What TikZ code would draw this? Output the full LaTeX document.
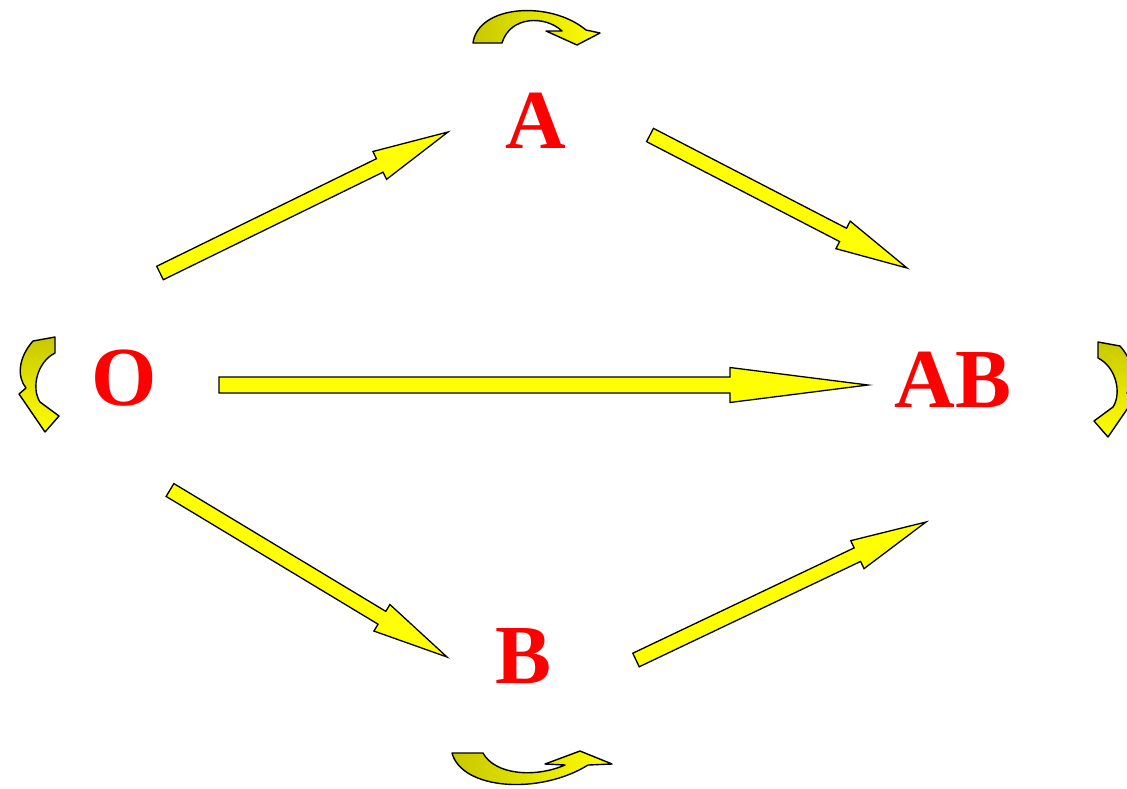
\documentclass[tikz,border=0pt]{standalone}
\usepackage{fontspec}
\setmainfont{Liberation Serif}
\usetikzlibrary{calc}
\definecolor{arrowyellow}{RGB}{255,255,0}
\definecolor{darkyellow}{RGB}{200,200,0}
\definecolor{labelred}{RGB}{255,0,0}
\newcommand\blockarrow[5]{%
  \coordinate (ba-h) at ($(#2)!#5!(#1)$);
  \draw[blk] ($(#1)!#3!90:(#2)$) -- ($(ba-h)!#3!90:(#2)$) -- ($(ba-h)!#4!90:(#2)$) -- (#2)
    -- ($(ba-h)!#4!-90:(#2)$) -- ($(ba-h)!#3!-90:(#2)$) -- ($(#1)!#3!-90:(#2)$) -- cycle;}
\begin{document}
\begin{tikzpicture}[x=1pt,y=-1pt,
  blk/.style={draw=black,fill=arrowyellow,line width=1.3pt,line join=miter},
  curv/.style={draw=black,line width=1.4pt,line join=round},
  lbl/.style={text=labelred,anchor=base,inner sep=0pt,font=\bfseries\fontsize{84}{84}\selectfont}]
\useasboundingbox (0,0) rectangle (1127,788);
\clip (0,0) rectangle (1127,788);
% labels
\node[lbl] (A) at (536,148) {A};
\node[lbl] (O) at (124,405) {O};
\node[lbl] (AB) at (953,407) {AB};
\node[lbl] (B) at (524,683) {B};
% arrow end points
\coordinate (oa-s) at (160,273);  \coordinate (oa-e) at (448,132);
\coordinate (aab-s) at (650,135); \coordinate (aab-e) at (907,268);
\coordinate (oab-s) at (219,385); \coordinate (oab-e) at (868,385);
\coordinate (ob-s) at (170,490);  \coordinate (ob-e) at (447,657);
\coordinate (bab-s) at (636,660); \coordinate (bab-e) at (926,522);
\blockarrow{oa-s}{oa-e}{7.5pt}{15.5pt}{76pt}
\blockarrow{aab-s}{aab-e}{7.5pt}{15.5pt}{72pt}
\blockarrow{oab-s}{oab-e}{8pt}{17.5pt}{138pt}
\blockarrow{ob-s}{ob-e}{7.5pt}{15.5pt}{76pt}
\blockarrow{bab-s}{bab-e}{7.5pt}{15.5pt}{76pt}
% self-loop arrows
\draw[curv,left color=darkyellow,right color=arrowyellow]
  (473,43) .. controls (478,5) and (550,0) .. (586,30) -- (600,33) -- (577,45) -- (546,31)
  -- (562,31) .. controls (545,15) and (510,16) .. (502,43) -- cycle;
\draw[curv,left color=darkyellow,right color=arrowyellow]
  (452,753) .. controls (462,790) and (540,795) .. (588,765) -- (612,764) -- (580,751)
  -- (545,764) -- (565,765) .. controls (535,778) and (495,775) .. (483,753) -- cycle;
\draw[curv,top color=darkyellow,bottom color=arrowyellow]
  (33,341) .. controls (18,358) and (17,377) .. (26,388) -- (19,394) -- (45,432) -- (59,416)
  -- (40,402) .. controls (31,388) and (37,362) .. (55,353) -- (55,337) -- cycle;
\draw[curv,top color=darkyellow,bottom color=arrowyellow]
  (1120,346) .. controls (1135,363) and (1136,382) .. (1127,393) -- (1134,399) -- (1108,437)
  -- (1094,421) -- (1113,407) .. controls (1122,393) and (1116,367) .. (1098,358) -- (1098,342) -- cycle;
\end{tikzpicture}
\end{document}
